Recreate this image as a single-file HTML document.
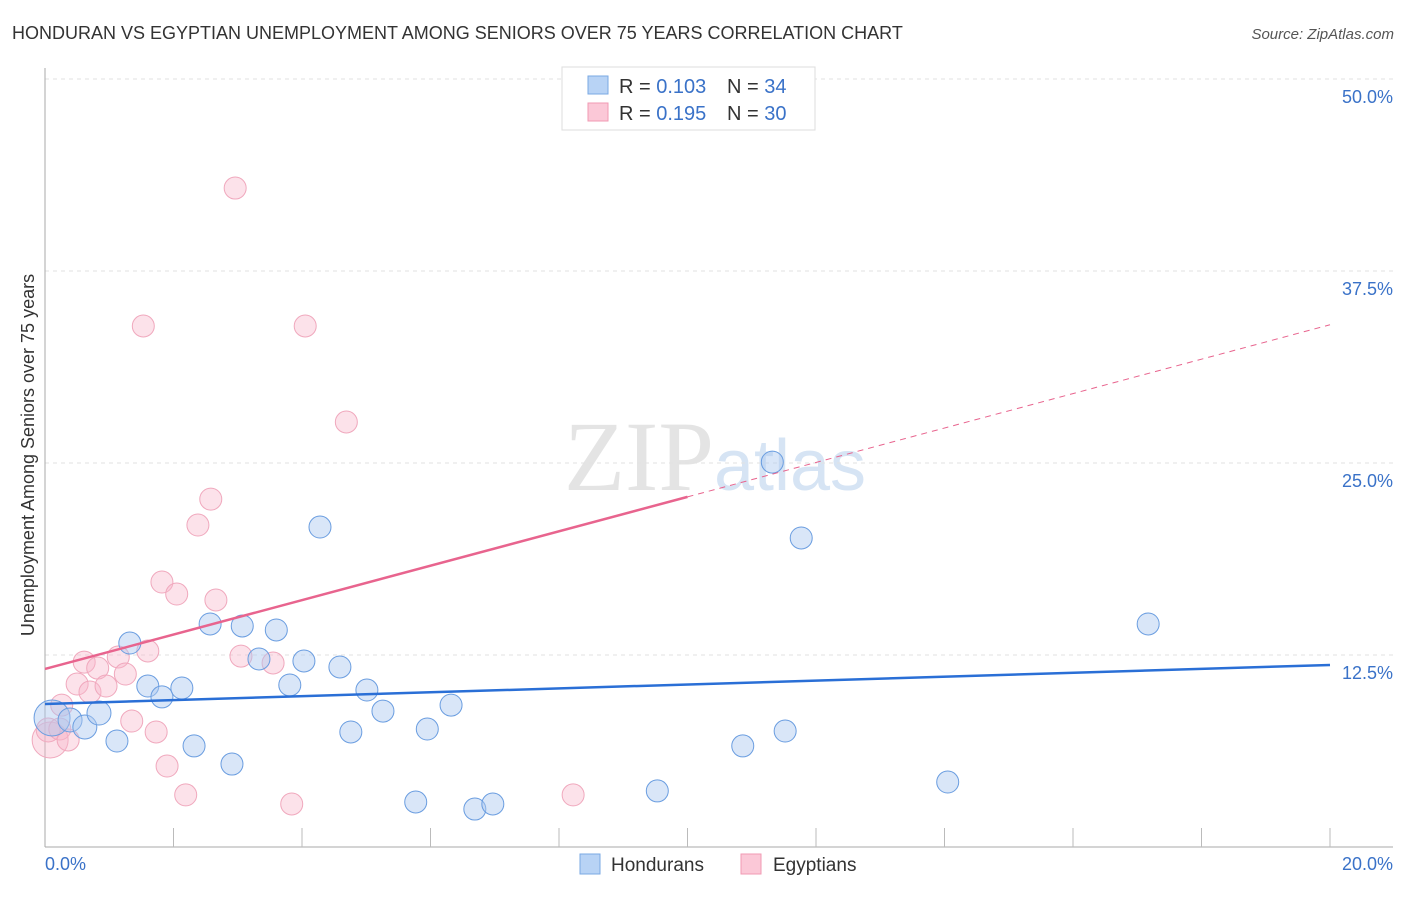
<!DOCTYPE html>
<html><head><meta charset="utf-8"><style>
body{margin:0;background:#fff;font-family:"Liberation Sans",sans-serif}
svg text{font-family:"Liberation Sans",sans-serif}
</style></head><body>
<svg id="c" width="1406" height="892">
<text x="12" y="39" font-size="18" fill="#333">HONDURAN VS EGYPTIAN UNEMPLOYMENT AMONG SENIORS OVER 75 YEARS CORRELATION CHART</text>
<text x="1394" y="39" font-size="15" fill="#555" font-style="italic" text-anchor="end">Source: ZipAtlas.com</text>
<text x="715" y="490" font-size="100" fill="#e4e4e4" text-anchor="middle" font-family="Liberation Serif"><tspan font-family="Liberation Serif">ZIP</tspan><tspan fill="#d6e4f4" font-family="Liberation Sans" font-size="72">atlas</tspan></text>
<text transform="translate(34,455) rotate(-90)" font-size="18" fill="#333" text-anchor="middle">Unemployment Among Seniors over 75 years</text>
<g id="grid"></g><g id="axes"></g><g id="marks"></g>
<g>
<rect x="562" y="67" width="253" height="63" fill="#fff" stroke="#ddd"/>
<rect x="588" y="76" width="20" height="18" fill="#b8d3f5" stroke="#7aa8e3"/>
<rect x="588" y="103" width="20" height="18" fill="#fbc8d7" stroke="#f09ab3"/>
<text x="619" y="93" font-size="20" fill="#333">R = <tspan fill="#3a72c8">0.103</tspan><tspan x="727">N = </tspan><tspan fill="#3a72c8">34</tspan></text>
<text x="619" y="120" font-size="20" fill="#333">R = <tspan fill="#3a72c8">0.195</tspan><tspan x="727">N = </tspan><tspan fill="#3a72c8">30</tspan></text>
</g>
<g>
<rect x="580" y="854" width="20" height="20" fill="#b8d3f5" stroke="#7aa8e3"/>
<text x="611" y="871" font-size="19" fill="#333">Hondurans</text>
<rect x="741" y="854" width="20" height="20" fill="#fbc8d7" stroke="#f09ab3"/>
<text x="773" y="871" font-size="19" fill="#333">Egyptians</text>
</g>
</svg>
<script>
const yTicks=[12.5,25,37.5,50];
const yTickLabels=["12.5%","25.0%","37.5%","50.0%"];
const xTickLabels=["0.0%","20.0%"];
const hondX=[0.11,0.39,0.62,0.84,1.12,1.32,1.60,1.82,2.13,2.32,2.57,2.91,3.07,3.33,3.60,3.81,4.03,4.28,4.59,4.76,5.01,5.26,5.77,5.95,6.32,6.69,6.97,9.53,10.86,11.32,11.52,11.77,14.05,17.17];
const hondY=[8.40,8.27,7.81,8.72,6.90,13.28,10.48,9.77,10.35,6.58,14.52,5.40,14.39,12.24,14.13,10.55,12.11,20.83,11.72,7.49,10.22,8.85,2.93,7.68,9.24,2.47,2.80,3.65,6.58,25.06,7.55,20.12,4.23,14.52];
const hondR=[18,12,12,12,11,11,11,11,11,11,11,11,11,11,11,11,11,11,11,11,11,11,11,11,11,11,11,11,11,11,11,11,11,11];
const egyX=[0.08,0.05,0.23,0.36,0.26,0.50,0.61,0.70,0.82,0.95,1.14,1.25,1.35,1.53,1.60,1.73,1.82,1.90,2.05,2.19,2.38,2.58,2.66,2.96,3.05,3.55,3.84,4.05,4.69,8.22];
const egyY=[6.97,7.62,7.68,6.97,9.24,10.61,12.04,10.09,11.65,10.48,12.37,11.26,8.20,33.92,12.76,7.49,17.25,5.27,16.47,3.39,20.96,22.65,16.08,42.90,12.43,11.98,2.80,33.92,27.67,3.39];
const egyR=[18,12,11,11,11,11,11,11,11,11,11,11,11,11,11,11,11,11,11,11,11,11,11,11,11,11,11,11,11,11];
const hondTrend=[9.31,11.85];
const egyTrend=[11.59,34.0];
const X0=45,X1=1330,Y0=847,Y1=79;
const sx=v=>X0+(v/20)*(X1-X0);
const sy=v=>Y0-(v/50)*(Y0-Y1);
const NS="http://www.w3.org/2000/svg";
function mk(tag,attrs,parent){const e=document.createElementNS(NS,tag);for(const k in attrs)e.setAttribute(k,attrs[k]);parent.appendChild(e);return e;}
const grid=document.getElementById('grid'),axes=document.getElementById('axes'),marks=document.getElementById('marks');
yTicks.forEach((t,i)=>{
 const l=mk('line',{x1:X0,x2:1393,y1:sy(t),y2:sy(t),stroke:'#e2e2e2','stroke-dasharray':'4,4'},grid);
 
 
 const tx=mk('text',{x:1393,y:sy(t)+24,'font-size':18,fill:'#3a72c8','text-anchor':'end'},grid);
 tx.textContent=yTickLabels[i];
 
 
});
mk('line',{x1:X0,x2:X0,y1:68,y2:Y0,stroke:'#aaa'},axes);
mk('line',{x1:X0,x2:1393,y1:Y0,y2:Y0,stroke:'#aaa'},axes);
for(let i=1;i<=10;i++){const x=sx(i*2);const tk=mk('line',{x1:x,x2:x,y1:828,y2:Y0,stroke:'#bbb'},axes);
 
 }
[[0,'start',X0],[1,'end',1393]].forEach(([i,a,x])=>{const t=mk('text',{x:x,y:870,'font-size':18,fill:'#3a72c8','text-anchor':a},axes);t.textContent=xTickLabels[i];
 
 });
function pts(xs,ys,rs,fill,stroke,name){xs.forEach((x,i)=>{const c=mk('circle',{cx:sx(x),cy:sy(ys[i]),r:rs[i],fill:fill,stroke:stroke,'stroke-width':1},marks);
 
 });}
pts(egyX,egyY,egyR,'rgba(248,182,202,0.4)','#f0a8bd','egyptian-point');
pts(hondX,hondY,hondR,'rgba(170,200,240,0.45)','#6a9de0','honduran-point');
const hl=mk('line',{x1:sx(0),y1:sy(hondTrend[0]),x2:sx(20),y2:sy(hondTrend[1]),stroke:'#2a6fd6','stroke-width':2.5},marks);


const ey=x=>egyTrend[0]+(egyTrend[1]-egyTrend[0])*x/20;
const el=mk('line',{x1:sx(0),y1:sy(ey(0)),x2:sx(10),y2:sy(ey(10)),stroke:'#e8648e','stroke-width':2.5},marks);


const ed=mk('line',{x1:sx(10),y1:sy(ey(10)),x2:sx(20),y2:sy(ey(20)),stroke:'#e8648e','stroke-width':1,'stroke-dasharray':'6,5'},marks);


</script>
</body></html>
